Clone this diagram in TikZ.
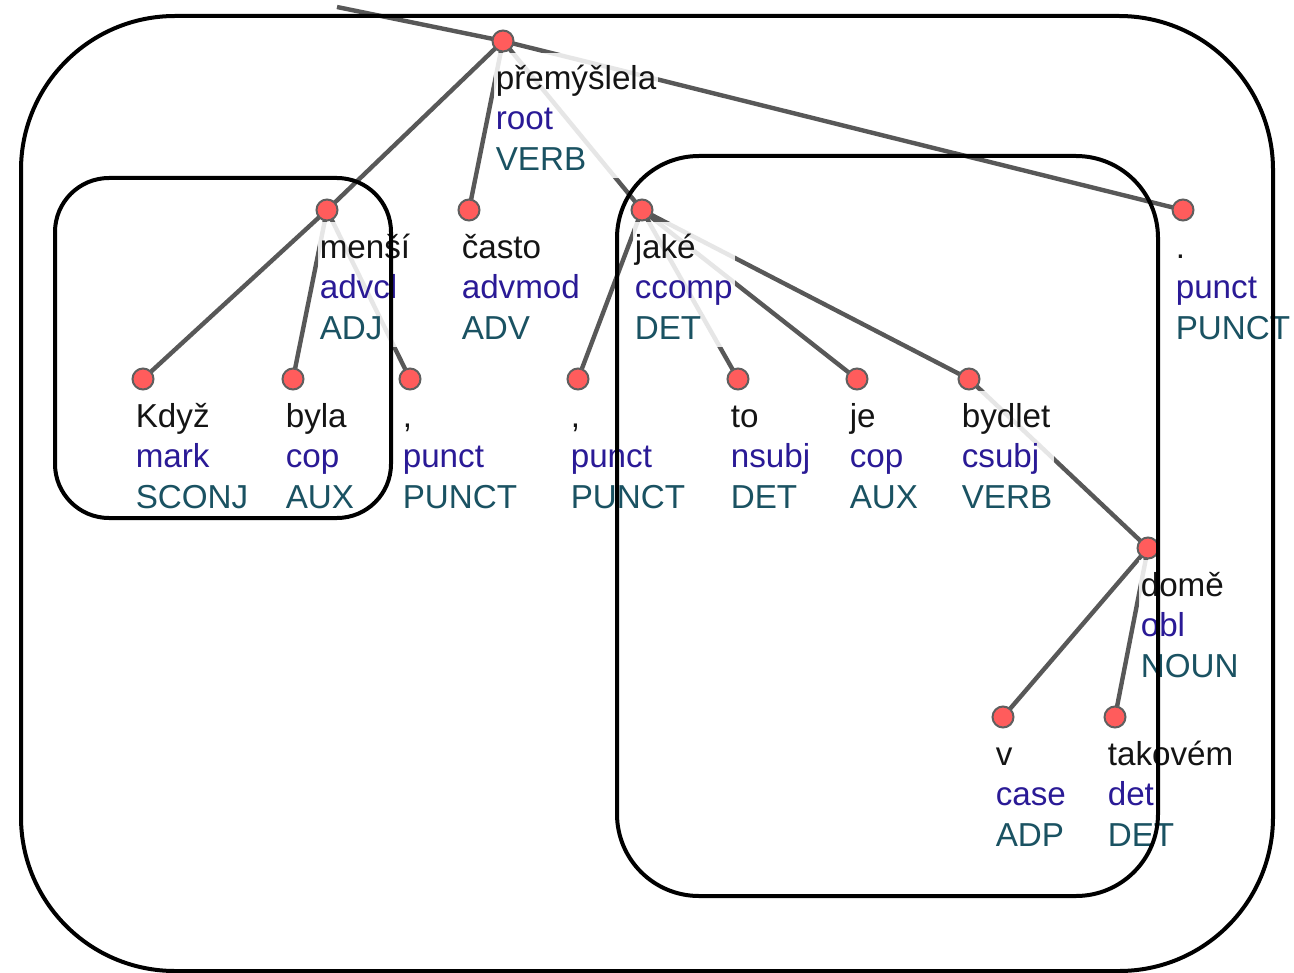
\documentclass[tikz,border=0pt]{standalone}
\usepackage{fontspec}
\setmainfont{Liberation Sans}

\pgfdeclarelayer{edgelayer}
\pgfsetlayers{edgelayer,main}

\definecolor{wordc}{RGB}{20,20,20}
\definecolor{relc}{RGB}{42,26,150}
\definecolor{posc}{RGB}{26,82,98}
\definecolor{dotfill}{RGB}{255,92,92}
\definecolor{dotline}{RGB}{95,95,95}
\definecolor{edgec}{RGB}{88,88,88}

\tikzset{
  tokdot/.style={circle, minimum size=10.5pt, inner sep=0pt, fill=dotfill, draw=dotline, line width=1pt},
  toklabel/.style={anchor=north west, align=left, inner xsep=1pt, inner ysep=3.8pt,
    fill=white, fill opacity=0.85, text opacity=1,
    font=\fontsize{16.6}{20.25}\selectfont, text=wordc},
  depedge/.style={draw=edgec, line width=2.2pt},
  grouping/.style={draw=black, line width=2pt, rounded corners=#1},
}

% one token: dot plus its three-line label (form, relation, part of speech)
\newcommand\token[6]{%
  \node[tokdot] (#1) at (#2,#3) {};
  \node[toklabel] (#1-lbl) at ([xshift=-4.8pt,yshift=-6pt]#1.center)
    {\strut #4\\\textcolor{relc}{#5}\\\textcolor{posc}{#6}};
}

\begin{document}
\begin{tikzpicture}[x=0.5pt,y=-0.5pt]
  \useasboundingbox (0,0) rectangle (1294,973);

  \coordinate (top) at (337,7);

  \token{root}{503}{41}{přemýšlela}{root}{VERB}
  \token{mensi}{327}{210}{menší}{advcl}{ADJ}
  \token{casto}{469}{210}{často}{advmod}{ADV}
  \token{jake}{642}{210}{jaké}{ccomp}{DET}
  \token{stop}{1183}{210}{.}{punct}{PUNCT}
  \token{kdyz}{143}{379}{Když}{mark}{SCONJ}
  \token{byla}{293}{379}{byla}{cop}{AUX}
  \token{commaA}{410}{379}{,}{punct}{PUNCT}
  \token{commaB}{578}{379}{,}{punct}{PUNCT}
  \token{to}{738}{379}{to}{nsubj}{DET}
  \token{je}{857}{379}{je}{cop}{AUX}
  \token{bydlet}{969}{379}{bydlet}{csubj}{VERB}
  \token{dome}{1148}{548}{domě}{obl}{NOUN}
  \token{v}{1003}{717}{v}{case}{ADP}
  \token{takovem}{1115}{717}{takovém}{det}{DET}

  \begin{pgfonlayer}{edgelayer}
    \draw[depedge] (top) -- (root.center);
    \draw[depedge] (root.center) -- (mensi.center);
    \draw[depedge] (root.center) -- (casto.center);
    \draw[depedge] (root.center) -- (jake.center);
    \draw[depedge] (root.center) -- (stop.center);
    \draw[depedge] (mensi.center) -- (kdyz.center);
    \draw[depedge] (mensi.center) -- (byla.center);
    \draw[depedge] (mensi.center) -- (commaA.center);
    \draw[depedge] (jake.center) -- (commaB.center);
    \draw[depedge] (jake.center) -- (to.center);
    \draw[depedge] (jake.center) -- (je.center);
    \draw[depedge] (jake.center) -- (bydlet.center);
    \draw[depedge] (bydlet.center) -- (dome.center);
    \draw[depedge] (dome.center) -- (v.center);
    \draw[depedge] (dome.center) -- (takovem.center);
  \end{pgfonlayer}

  % grouping outlines
  \draw[grouping=77pt] (21,16) rectangle (1273,971);
  \draw[grouping=27pt] (55,178) rectangle (391,518);
  \draw[grouping=41pt] (617,156) rectangle (1158,896);
\end{tikzpicture}
\end{document}
